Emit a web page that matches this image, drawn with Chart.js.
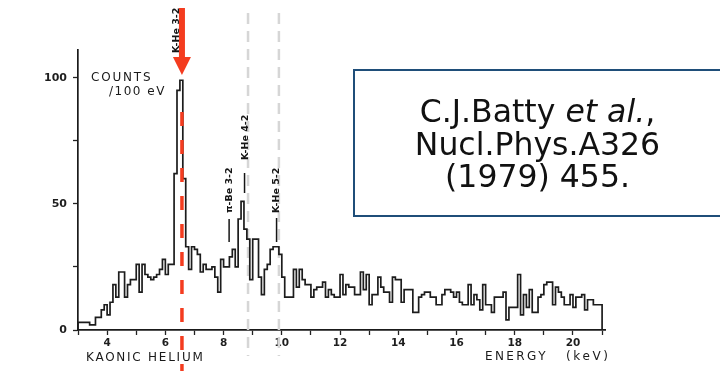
<!DOCTYPE html>
<html>
<head>
<meta charset="utf-8">
<script src="https://cdn.jsdelivr.net/npm/chart.js@4.4.1/dist/chart.umd.min.js"></script>
<style>
 body{margin:0;background:#fff;overflow:hidden;}
 #wrap{position:relative;width:720px;height:371px;overflow:hidden;background:#fff;}
 #spectrum{position:absolute;left:0;top:0;}
 .lab{position:absolute;font-family:'DejaVu Sans';font-size:12px;line-height:12px;color:#1a1a1a;white-space:pre;}
 #refBox{position:absolute;left:353px;top:69px;width:372px;height:148px;border:2.5px solid #1f4e79;box-sizing:border-box;}
 #refText{position:absolute;left:353px;top:95px;width:369px;text-align:center;font-family:'DejaVu Sans';font-size:31.5px;line-height:32.5px;color:#111;}
</style>
</head>
<body>
<div id="wrap">
 <canvas id="spectrum" width="720" height="371"></canvas>
 <div class="lab" style="left:91px;top:71px;letter-spacing:1.8px;">COUNTS</div>
 <div class="lab" style="left:109px;top:85px;letter-spacing:1.5px;">/100 eV</div>
 <div class="lab" style="left:86px;top:351px;letter-spacing:1.75px;">KAONIC HELIUM</div>
 <div class="lab" style="left:485px;top:350px;letter-spacing:2.4px;">ENERGY</div>
 <div class="lab" style="left:566px;top:350px;letter-spacing:2.6px;">(keV)</div>
 <div id="refBox"></div>
 <div id="refText">C.J.Batty <i>et al.</i>,<br>Nucl.Phys.A326<br>(1979) 455.</div>
</div>
<script>
// kaonic helium spectrum, counts per 100 eV bin, first bin starts at 3.0 keV
var binStart = 3.0;
var binWidth = 0.1;
var counts = [
  3, 3, 3, 3, 2, 2, 5, 5, 8, 10,
  6, 11, 18, 13, 23, 23, 13, 18, 20, 20,
  26, 15, 26, 22, 21, 20, 21, 22, 24, 28,
  22, 26, 26, 62, 95, 99, 60, 33, 24, 33,
  32, 30, 23, 26, 24, 24, 25, 21, 15, 28,
  25, 25, 29, 32, 25, 44, 51, 40, 36, 20,
  36, 36, 21, 14, 24, 26, 32, 33, 33, 30,
  21, 13, 13, 13, 24, 17, 24, 20, 18, 18,
  13, 16, 17, 17, 19, 13, 16, 14, 13, 13,
  22, 14, 18, 17, 17, 14, 14, 23, 16, 22,
  10, 14, 14, 21, 17, 15, 15, 11, 21, 20,
  20, 11, 16, 16, 16, 7, 7, 13, 14, 15,
  15, 13, 13, 10, 10, 14, 16, 16, 15, 13,
  15, 11, 10, 10, 18, 10, 14, 12, 8, 18,
  10, 10, 7, 13, 13, 13, 15, 4, 9, 9,
  9, 22, 6, 14, 9, 16, 7, 7, 13, 14,
  18, 19, 19, 10, 17, 15, 13, 10, 10, 14,
  9, 13, 13, 14, 8, 12, 12, 10, 10, 10
];

// axis ranges (keV / counts)
var energyMin = 3;
var energyMax = 21.1;
var countMax = 111;

// transition labels and where they sit on the energy axis
var lineLabels = ['K-He 3-2', 'π-Be 3-2', 'K-He 4-2', 'K-He 5-2'];
var lineLabelEnergy = [6.40, 8.19, 8.77, 9.83];
var markerEnergy = [8.19, 8.72, 9.82];
var arrowEnergy = 6.57;
var guideEnergy = [8.84, 9.90];

var points = [{x: binStart, y: 0}];
for (var i = 0; i < counts.length; i++) {
  points.push({x: +(binStart + i * binWidth).toFixed(2), y: counts[i]});
}
points.push({x: +(binStart + counts.length * binWidth).toFixed(2), y: 0});

var guides = {
  id: 'guides',
  beforeDatasetsDraw: function (chart) {
    var ctx = chart.ctx, xs = chart.scales.x;
    ctx.save();
    ctx.strokeStyle = '#d6d6d6';
    ctx.lineWidth = 2.5;
    ctx.setLineDash([11, 7]);
    guideEnergy.forEach(function (e) {
      var px = xs.getPixelForValue(e);
      ctx.beginPath(); ctx.moveTo(px, 13); ctx.lineTo(px, 356); ctx.stroke();
    });
    ctx.restore();
  },
  afterDraw: function (chart) {
    var ctx = chart.ctx, xs = chart.scales.x;
    ctx.save();
    // red dashed line + arrow on K-He 3-2
    var ax = xs.getPixelForValue(arrowEnergy);
    ctx.strokeStyle = '#f43c1f';
    ctx.lineWidth = 3.5;
    ctx.setLineDash([14, 14]);
    ctx.beginPath(); ctx.moveTo(ax, 112); ctx.lineTo(ax, 371); ctx.stroke();
    ctx.setLineDash([]);
    ctx.fillStyle = '#f43c1f';
    ctx.fillRect(ax - 3, 8, 6, 50);
    ctx.beginPath();
    ctx.moveTo(ax - 9, 57); ctx.lineTo(ax + 9, 57); ctx.lineTo(ax, 75);
    ctx.closePath(); ctx.fill();

    // vertical transition labels
    var labelBottom = [53, 213, 160, 213];
    ctx.fillStyle = '#151515';
    ctx.font = 'bold 9.5px "DejaVu Sans"';
    ctx.textAlign = 'left';
    ctx.textBaseline = 'middle';
    lineLabels.forEach(function (t, k) {
      ctx.save();
      ctx.translate(xs.getPixelForValue(lineLabelEnergy[k]), labelBottom[k]);
      ctx.rotate(-Math.PI / 2);
      ctx.fillText(t, 0, 0);
      ctx.restore();
    });

    // short marker ticks under the labels
    var markerSpan = [[219, 242], [173, 193], [218, 242]];
    ctx.strokeStyle = '#151515';
    ctx.lineWidth = 1.5;
    markerEnergy.forEach(function (e, k) {
      var px = xs.getPixelForValue(e);
      ctx.beginPath(); ctx.moveTo(px, markerSpan[k][0]); ctx.lineTo(px, markerSpan[k][1]); ctx.stroke();
    });
    ctx.restore();
  }
};

Chart.defaults.font.family = '"DejaVu Sans"';

new Chart(document.getElementById('spectrum').getContext('2d'), {
  type: 'line',
  data: {
    datasets: [{
      data: points,
      stepped: 'before',
      borderColor: '#1c1c1c',
      borderWidth: 1.7,
      pointRadius: 0,
      fill: false
    }]
  },
  options: {
    responsive: false,
    animation: false,
    layout: {padding: {left: 0, right: 115, top: 50, bottom: 0}},
    plugins: {legend: {display: false}, tooltip: {enabled: false}},
    scales: {
      x: {
        type: 'linear', min: energyMin, max: energyMax,
        afterFit: function (s) { s.height = 41; },
        ticks: {
          stepSize: 1, includeBounds: false, autoSkip: false, maxRotation: 0,
          padding: 2, color: '#1e1e1e', font: {size: 10.5, weight: 'bold'},
          callback: function (v) { return v % 2 === 0 ? String(v) : ''; }
        },
        grid: {drawOnChartArea: false, drawTicks: true, tickLength: 5, tickColor: '#222', tickWidth: 1.3},
        border: {display: true, color: '#1a1a1a', width: 1.7}
      },
      y: {
        min: 0, max: countMax,
        afterFit: function (s) { s.width = 78; },
        ticks: {
          stepSize: 25, includeBounds: false, padding: 6, color: '#1e1e1e', font: {size: 11, weight: 'bold'},
          callback: function (v) { return v % 50 === 0 ? String(v) : ''; }
        },
        grid: {drawOnChartArea: false, drawTicks: true, tickLength: 5, tickColor: '#222', tickWidth: 1.3},
        border: {display: true, color: '#1a1a1a', width: 1.7}
      }
    }
  },
  plugins: [guides]
});
</script>
</body>
</html>
